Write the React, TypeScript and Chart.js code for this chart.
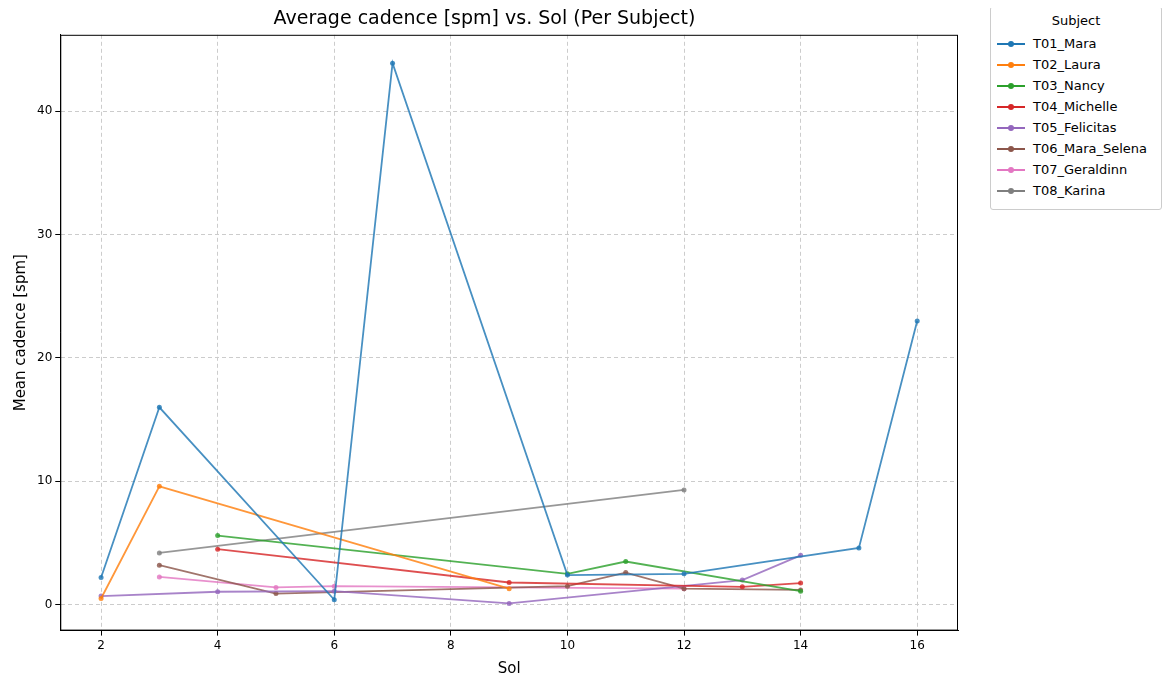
import React, { useEffect, useRef } from "react";
import Chart from "chart.js/auto";

const subjects = ["T01_Mara", "T02_Laura", "T03_Nancy", "T04_Michelle", "T05_Felicitas", "T06_Mara_Selena", "T07_Geraldinn", "T08_Karina"];
const colors = ["#1f77b4", "#ff7f0e", "#2ca02c", "#d62728", "#9467bd", "#8c564b", "#e377c2", "#7f7f7f"];
const sols = [
  [2, 3, 6, 7, 10, 12, 15, 16],
  [2, 3, 9],
  [4, 10, 11, 14],
  [4, 9, 13, 14],
  [2, 4, 6, 9, 13, 14],
  [3, 5, 10, 11, 12, 14],
  [3, 5, 6, 12],
  [3, 12],
];
const cadence = [
  [2.2, 16.0, 0.4, 43.9, 2.4, 2.5, 4.6, 23.0],
  [0.5, 9.6, 1.3],
  [5.6, 2.5, 3.5, 1.1],
  [4.5, 1.8, 1.45, 1.75],
  [0.7, 1.05, 1.1, 0.1, 2.0, 4.0],
  [3.2, 0.9, 1.5, 2.6, 1.3, 1.2],
  [2.25, 1.4, 1.5, 1.3],
  [4.2, 9.3],
];
const xTicks = [2, 4, 6, 8, 10, 12, 14, 16];
const yTicks = [0, 10, 20, 30, 40];

const font = "'DejaVu Sans', sans-serif";

export default function App() {
  const ref = useRef<HTMLCanvasElement>(null);
  useEffect(() => {
    if (!ref.current) return;
    const chart = new Chart(ref.current, {
      type: "line",
      data: {
        datasets: subjects.map((s, i) => ({
          label: s,
          data: sols[i].map((x, j) => ({ x, y: cadence[i][j] })),
          borderColor: colors[i] + "d0",
          backgroundColor: colors[i] + "d0",
          borderWidth: 1.8,
          pointRadius: 2.5,
          pointBorderWidth: 0,
        })),
      },
      options: {
        animation: false,
        responsive: false,
        layout: { padding: { right: 1 } },
        plugins: {
          legend: { display: false },
          title: { display: true, text: "Average cadence [spm] vs. Sol (Per Subject)", color: "#000", font: { family: font, size: 19, weight: "normal" }, padding: { top: 0, bottom: 4 } },
          tooltip: { enabled: false },
        },
        scales: {
          x: {
            type: "linear", min: 1.3, max: 16.7,
            afterBuildTicks: (ax: any) => { ax.ticks = xTicks.map((v) => ({ value: v })); },
            grid: { color: "#cccccc", tickColor: "#000", tickLength: 5 },
            border: { color: "#000", dash: [4, 3] },
            ticks: { color: "#000", font: { family: font, size: 12 } },
            title: { display: true, text: "Sol", color: "#000", font: { family: font, size: 15 } },
          },
          y: {
            min: -2.1, max: 46.2,
            afterBuildTicks: (ax: any) => { ax.ticks = yTicks.map((v) => ({ value: v })); },
            grid: { color: "#cccccc", tickColor: "#000", tickLength: 5 },
            border: { color: "#000", dash: [4, 3] },
            ticks: { color: "#000", font: { family: font, size: 12 } },
            title: { display: true, text: "Mean cadence [spm]", color: "#000", font: { family: font, size: 15 } },
          },
        },
      },
      plugins: [{
        id: "frame",
        afterDraw: (c: any) => {
          const { left, right, top, bottom } = c.chartArea;
          const ctx = c.ctx;
          ctx.save();
          ctx.strokeStyle = "#000";
          ctx.lineWidth = 1;
          ctx.strokeRect(left + 0.5, top + 0.5, right - left - 1, bottom - top - 1);
          ctx.restore();
        },
      }],
    } as any);
    return () => chart.destroy();
  }, []);
  return (
    <div style={{ position: "relative", width: 1156, height: 674, fontFamily: font }}>
      <canvas ref={ref} width={954} height={674} style={{ position: "absolute", left: 0, top: 0 }} />
      <div style={{ position: "absolute", left: 982, top: -2, width: 158, border: "1px solid #ccc", borderRadius: 3, padding: "6px 6px 8px 6px", fontSize: 13, background: "#fff" }}>
        <div style={{ textAlign: "center", marginBottom: 5 }}>Subject</div>
        {subjects.map((s, i) => (
          <div key={s} style={{ display: "flex", alignItems: "center", height: 21 }}>
            <span style={{ position: "relative", width: 28, height: 2, background: colors[i], marginRight: 8 }}>
              <span style={{ position: "absolute", left: 11, top: -2, width: 6, height: 6, borderRadius: 3, background: colors[i] }} />
            </span>
            {s}
          </div>
        ))}
      </div>
    </div>
  );
}
